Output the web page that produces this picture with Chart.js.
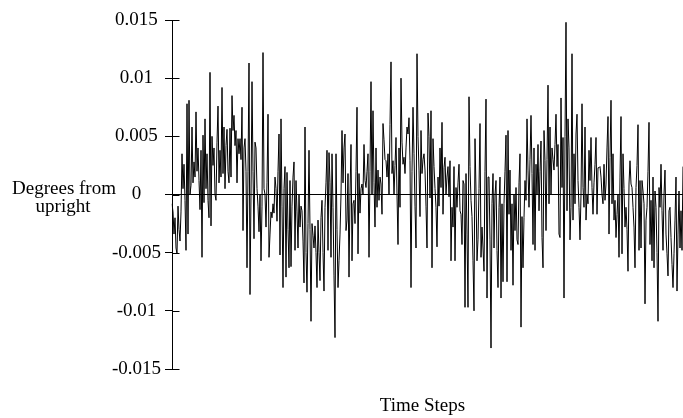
<!DOCTYPE html>
<html>
<head>
<meta charset="utf-8">
<script src="https://cdn.jsdelivr.net/npm/chart.js@4/dist/chart.umd.min.js"></script>
<style>
  html, body { margin: 0; padding: 0; background: #fff; }
  #wrap { width: 683px; height: 418px; }
</style>
</head>
<body>
<div id="wrap"><canvas id="angle-chart" width="683" height="418"></canvas></div>
<script>
// deviation from upright at each time step (degrees)
const angle = [
  -0.8e-3, -1.5e-3, -3.4e-3, -2.0e-3, -4.6e-3, -5.1e-3, -1.0e-3, -3.0e-3, -4.0e-3, -1.5e-3,
  3.5e-3, 0.5e-3, 2.6e-3, -0.5e-3, -4.8e-3, 7.8e-3, -3.4e-3, 8.1e-3, 0, 0.8e-3,
  5.8e-3, 1.0e-3, 2.8e-3, 1.5e-3, 7.1e-3, 2.0e-3, 4.0e-3, 1.2e-3, -1.3e-3, 3.8e-3,
  -5.4e-3, 5.1e-3, -0.7e-3, 6.5e-3, 0.5e-3, 3.5e-3, -0.5e-3, -2.0e-3, 10.5e-3, -2.7e-3,
  5.0e-3, 2.5e-3, 4.0e-3, 0, -0.5e-3, 4.5e-3, 7.6e-3, 1.0e-3, 3.8e-3, 1.5e-3,
  9.2e-3, 1.8e-3, 5.8e-3, 0.5e-3, 4.2e-3, 5.6e-3, 2.0e-3, 1.0e-3, 5.7e-3, 1.5e-3,
  8.5e-3, 5.5e-3, 6.8e-3, 4.2e-3, 5.5e-3, 1.0e-3, 4.8e-3, 3.5e-3, 4.8e-3, 3.0e-3,
  7.5e-3, -3.1e-3, 4.0e-3, 4.8e-3, 2.0e-3, -6.3e-3, 2.0e-3, 11.3e-3, -8.6e-3, 0,
  9.7e-3, 2.0e-3, -3.8e-3, 4.5e-3, 4.0e-3, 0.5e-3, -1.0e-3, -3.2e-3, 0,
  -5.7e-3, -1.0e-3, 12.2e-3, 0.5e-3, 0, -2.8e-3, 1.0e-3, 6.9e-3, -5.4e-3, -3.4e-3,
  -1.5e-3, -2.0e-3, -0.8e-3, -1.6e-3, 1.5e-3, 0.5e-3, -2.3e-3, 2.0e-3, 5.2e-3, -5.2e-3,
  6.5e-3, -1.0e-3, -8.0e-3, 0.5e-3, 2.4e-3, -7.1e-3, 1.9e-3, -3.0e-3, -6.3e-3, 1.2e-3,
  -6.2e-3, -1.0e-3, 1.5e-3, 2.8e-3, -4.8e-3, 1.2e-3, -1.5e-3, -4.6e-3, 0, -2.8e-3,
  -1.0e-3, -1.4e-3, -4.0e-3, -7.6e-3, 5.8e-3, -5.0e-3, -8.4e-3, -2.5e-3, 3.8e-3, -3.0e-3,
  -10.9e-3, -2.5e-3, -3.5e-3, -4.6e-3, -2.7e-3, -5.0e-3, -8.0e-3, -2.2e-3, -5.0e-3, -7.4e-3,
  -2.0e-3, -0.5e-3, -5.0e-3, -8.3e-3, -1.1e-3, 1.0e-3, 3.8e-3, -4.8e-3, 3.6e-3, 1.0e-3,
  -5.4e-3, 3.5e-3, -1.1e-3, -7.0e-3, -12.3e-3, 3.5e-3, -3.0e-3, -8.0e-3, -5.7e-3, -3.4e-3,
  0, 5.5e-3, 1.0e-3, 4.0e-3,
  5.2e-3, -3.1e-3, -2.2e-3, 1.8e-3, -7.1e-3, 0, 4.3e-3, -5.7e-3, -0.8e-3, -0.5e-3,
  -2.5e-3, 2.0e-3, 7.5e-3, -5.1e-3, 1.8e-3, -1.6e-3, 0.5e-3, 0.9e-3, 0, 4.3e-3,
  1.2e-3, 0.6e-3, 2.0e-3, 3.5e-3, -5.4e-3, 2.0e-3, 9.7e-3, 0, 7.2e-3, 1.0e-3,
  -2.8e-3, 4.0e-3, -1.1e-3, 2.1e-3, -0.5e-3, 1.5e-3, 0.9e-3, -1.7e-3, 6.1e-3, 4.7e-3,
  3.0e-3, 2.9e-3, 1.5e-3, 3.5e-3, 0, 6.0e-3, 11.4e-3, 1.8e-3, 2.9e-3, 0,
  2.5e-3, 4.9e-3, 0, -4.3e-3, 4.0e-3, -1.1e-3, 10.0e-3, 4.5e-3, 2.6e-3, 3.2e-3,
  1.8e-3, 4.0e-3, 5.8e-3, 5.2e-3, 6.6e-3, 2.9e-3, -8.0e-3, 2.0e-3, 7.5e-3, 3.5e-3,
  -1.0e-3, -4.6e-3, 12.1e-3, 5.0e-3, 2.1e-3, -1.9e-3, 5.5e-3, 1.8e-3, 3.0e-3, 3.5e-3,
  2.1e-3, -1.0e-3, -4.6e-3, 7.0e-3, 5.0e-3, -0.3e-3,
  7.2e-3, -6.3e-3, 4.8e-3, 2.4e-3, 0.5e-3, -1.1e-3, -4.5e-3, 1.5e-3, -1.0e-3, 4.0e-3,
  0.6e-3, 6.2e-3, -1.7e-3, 2.3e-3, 3.2e-3, 0, 1.5e-3, 2.4e-3, -0.2e-3, 2.9e-3,
  -5.7e-3, -1.1e-3, -2.8e-3, 2.4e-3, -5.7e-3, 0.6e-3, -1.1e-3, 1.0e-3, 2.6e-3, -1.4e-3,
  -1.7e-3, -4.3e-3, 1.2e-3, 0.9e-3, -9.7e-3, 1.8e-3, -3.4e-3, -9.7e-3, 8.4e-3, 2.4e-3,
  -0.5e-3, -1.9e-3, -5.7e-3, -10.0e-3, 4.8e-3, 0.3e-3, -5.7e-3, -3.9e-3, 0.5e-3, 6.1e-3,
  -5.4e-3, -2.8e-3, -4.6e-3, -6.6e-3, 2.0e-3, 8.2e-3, -8.9e-3, 1.5e-3, 1.5e-3, -3.9e-3,
  -13.2e-3, -0.8e-3, 1.8e-3, -4.6e-3, 0, 1.2e-3, -4.8e-3, -8.0e-3, -1.1e-3, 1.5e-3,
  -8.9e-3, -0.8e-3, -7.5e-3, -0.8e-3, 2.0e-3, 5.1e-3, -7.5e-3, 5.5e-3, -1.7e-3, 2.1e-3,
  -4.8e-3, -0.8e-3, -7.8e-3, 0,
  -3.1e-3, 0.6e-3, -3.9e-3, -4.3e-3, 1.0e-3, 3.5e-3, -11.4e-3, -1.9e-3, -6.3e-3, -2.0e-3,
  1.2e-3, -0.5e-3, 6.5e-3, 2.1e-3, -1.1e-3, 3.0e-3, 6.8e-3, 1.8e-3, -4.3e-3, 4.0e-3,
  -4.8e-3, 2.6e-3, 0, 4.3e-3, -1.4e-3, 2.0e-3, 4.6e-3, -3.7e-3, -6.3e-3, 5.5e-3,
  2.9e-3, -3.1e-3, 3.0e-3, 9.4e-3, -0.8e-3, 5.8e-3, 0, 4.0e-3, 3.0e-3, 2.1e-3,
  4.3e-3, 6.9e-3, 2.4e-3, 4.3e-3, -3.4e-3, -3.7e-3, 8.3e-3, 0.6e-3, 4.9e-3, -8.9e-3,
  5.0e-3, 14.8e-3, -1.4e-3, 6.5e-3, 4.0e-3, -3.9e-3, -1.1e-3, 12.1e-3, -2.2e-3, 3.5e-3,
  -0.8e-3, 5.2e-3, 6.9e-3, 1.2e-3, -1.1e-3, -3.9e-3, 0, 7.8e-3, 0.6e-3, -1.1e-3,
  5.8e-3, -2.2e-3, 0, -0.8e-3, 3.8e-3, 1.2e-3, 4.9e-3, 0.6e-3, -1.7e-3, 1.0e-3,
  2.6e-3, 4.9e-3, -1.7e-3, 2.3e-3, 2.3e-3,
  2.4e-3, 1.5e-3, 0, -0.8e-3, 2.6e-3, -0.5e-3, 0.9e-3, 4.0e-3, 6.7e-3, -3.4e-3,
  3.2e-3, 8.1e-3, -0.8e-3, 3.5e-3, -2.2e-3, -0.5e-3, -3.7e-3, -1.7e-3, 0, -5.4e-3,
  1.5e-3, 6.7e-3, -5.1e-3, 3.5e-3, 0.5e-3, -2.8e-3, -1.1e-3, -3.0e-3, -6.6e-3, 0.9e-3,
  2.9e-3, 0.9e-3, 0.6e-3, -1.1e-3, -2.8e-3, -6.3e-3, 0.6e-3, 2.5e-3, 6.0e-3, -4.8e-3,
  1.2e-3, -4.6e-3, 1.2e-3, 0.3e-3, -0.8e-3, -9.4e-3, -2.2e-3, -1.1e-3, 2.0e-3, 6.2e-3,
  -4.3e-3, -0.5e-3, -5.7e-3, 1.5e-3, -6.3e-3, 0.3e-3, -1.1e-3, -5.0e-3, -10.9e-3, 0.6e-3,
  -1.1e-3, 2.6e-3, -1.4e-3, -4.8e-3, 0, 2.1e-3, -3.4e-3, -5.1e-3, -7.0e-3, -1.4e-3,
  -1.1e-3, -3.7e-3, -6.0e-3, -8.0e-3, -5.1e-3, -2.2e-3, 1.5e-3, -8.3e-3, -3.4e-3, 0.3e-3,
  -4.6e-3, -1.4e-3, -4.8e-3, 2.4e-3
];

// one label per time step
const timeSteps = angle.map((_, i) => i + 1);

const yTickValues = [-0.015, -0.01, -0.005, 0, 0.005, 0.01, 0.015];
const yTickLabels = ['-0.015', '-0.01', '-0.005', '0', '0.005', '0.01', '0.015'];

const FONT = "'Liberation Serif', 'Times New Roman', serif";

// axis titles are horizontal in the original, so draw them by hand
const axisTitles = {
    id: 'axisTitles',
    afterDraw(chart) {
        const ctx = chart.ctx;
        const area = chart.chartArea;
        const y0 = chart.scales.y.getPixelForValue(0);
        ctx.save();
        ctx.fillStyle = '#000';
        ctx.font = `19px ${FONT}`;
        ctx.textAlign = 'center';
        ctx.textBaseline = 'alphabetic';
        ctx.fillText('Degrees from', 64, y0 - 1);
        ctx.fillText('upright', 63, y0 + 17);
        ctx.fillText('Time Steps', (area.left + area.right) / 2 - 5, 411);
        ctx.restore();
    }
};

// tick marks cross the axis: add the inner half
const innerTicks = {
    id: 'innerTicks',
    afterDatasetsDraw(chart) {
        const ctx = chart.ctx;
        const yScale = chart.scales.y;
        const x = Math.round(chart.chartArea.left) + 0.5;
        ctx.save();
        ctx.strokeStyle = '#000';
        ctx.lineWidth = 1;
        ctx.beginPath();
        yTickValues.forEach(v => {
            const y = Math.round(yScale.getPixelForValue(v)) + 0.5;
            ctx.moveTo(x, y);
            ctx.lineTo(x + 7, y);
        });
        ctx.stroke();
        ctx.restore();
    }
};

const chartConfig = {
    type: 'line',
    data: {
        labels: timeSteps,
        datasets: [{
            data: angle,
            borderColor: '#000',
            borderWidth: 1,
            pointRadius: 0,
            tension: 0,
            fill: false
        }]
    },
    options: {
        responsive: false,
        animation: false,
        devicePixelRatio: 1,
        layout: { padding: { top: 20, bottom: 49, left: 0, right: 0 } },
        plugins: {
            legend: { display: false },
            tooltip: { enabled: false }
        },
        scales: {
            x: {
                display: false
            },
            y: {
                min: -0.015,
                max: 0.015,
                afterFit(scale) { scale.width = 172; },
                afterBuildTicks(scale) {
                    scale.ticks = yTickValues.map(v => ({ value: v }));
                },
                border: { display: true, color: '#000', width: 1 },
                grid: {
                    drawOnChartArea: true,
                    drawTicks: true,
                    tickLength: 7,
                    tickColor: '#000',
                    color: c => (c.tick && Math.abs(c.tick.value) < 1e-9) ? '#000' : 'rgba(0,0,0,0)'
                },
                ticks: {
                    color: '#000',
                    padding: 4,
                    crossAlign: 'center',
                    font: { family: FONT, size: 19 },
                    callback: (v, i) => yTickLabels[i]
                }
            }
        }
    },
    plugins: [innerTicks, axisTitles]
};

const ctx = document.getElementById('angle-chart').getContext('2d');
new Chart(ctx, chartConfig);
</script>
</body>
</html>
